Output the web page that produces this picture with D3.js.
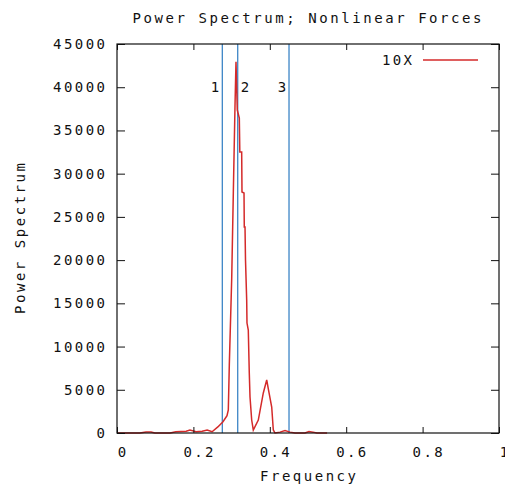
<!DOCTYPE html>
<html>
<head>
<meta charset="utf-8">
<script src="https://cdn.jsdelivr.net/npm/d3@7"></script>
<style>
  body { margin: 0; background: #fff; }
  text { font-family: "DejaVu Sans Mono", monospace; font-size: 14px; fill: #111; }
</style>
</head>
<body>
<svg id="chart" width="505" height="485"></svg>
<script>
// power spectrum
const freq = [0, 0.060, 0.076, 0.089, 0.099, 0.139, 0.154, 0.181, 0.191, 0.207, 0.223, 0.236, 0.249,
  0.264, 0.2775, 0.288, 0.2914, 0.2940, 0.3003, 0.3045, 0.3089, 0.3115,
  0.3149, 0.3202, 0.3215, 0.3264, 0.3272, 0.3325, 0.3332, 0.3351, 0.3364, 0.3395, 0.3403,
  0.3437, 0.3463, 0.3482, 0.3526, 0.3568,
  0.3699, 0.3830, 0.3919, 0.3966, 0.4050, 0.4092, 0.4136,
  0.4267, 0.4398, 0.4529, 0.466, 0.492, 0.5026, 0.513, 0.5236, 0.55];
const power = [0, 0, 120, 120, 0, 0, 150, 200, 350, 150, 200, 350, 150,
  700, 1300, 2000, 2660, 7870, 17900, 27760, 37830, 42950,
  37360, 36440, 32500, 32500, 27880, 27760, 23830, 23830, 20010, 15390, 12720,
  11900, 6940, 4160, 1500, 350,
  1500, 4630, 6130, 5000, 3000, 350, 0,
  100, 290, 100, 0, 0, 170, 100, 0, 0];

const markerFreq = [0.2757, 0.316, 0.4503];
const labelText = ["1", "2", "3"];
const labelFreq = [0.2565, 0.335, 0.432];
const labelPower = 40000;

const xTicks = [0, 0.2, 0.4, 0.6, 0.8, 1];
const xTickLabels = ["0", "0.2", "0.4", "0.6", "0.8", "1"];
const yTicks = [0, 5000, 10000, 15000, 20000, 25000, 30000, 35000, 40000, 45000];

const seriesName = "10X";

const svg = d3.select("#chart");
const margin = { top: 44, right: 6, bottom: 52, left: 117 };
const width = 505, height = 485;
const cw = 11; // character cell width of the pixel font

// fit text to the wide monospaced cell
function fit(sel) {
  sel.each(function () {
    const n = this.textContent.length;
    if (n > 1) d3.select(this).attr("textLength", (n - 1) * cw + 8).attr("lengthAdjust", "spacing");
  });
  return sel;
}

const x = d3.scaleLinear().domain([0, 1]).range([margin.left, width - margin.right]);
const y = d3.scaleLinear().domain([0, 45000]).range([height - margin.bottom, margin.top]);

// marker lines
svg.append("g").selectAll("line").data(markerFreq).enter().append("line")
  .attr("x1", d => x(d)).attr("x2", d => x(d))
  .attr("y1", y(45000)).attr("y2", y(0))
  .attr("stroke", "#3d85c6").attr("stroke-width", 1.3);

// spectrum
const line = d3.line().x((d, i) => x(freq[i])).y(d => y(d));
svg.append("path").datum(power)
  .attr("d", line)
  .attr("fill", "none")
  .attr("stroke", "#d42a2a")
  .attr("stroke-width", 1.5);

// axes with inward ticks on all sides
svg.append("g").attr("transform", `translate(0,${y(0)})`)
  .call(d3.axisBottom(x).tickValues(xTicks).tickSize(-6).tickFormat(""))
  .call(g => g.select(".domain").remove());
svg.append("g").attr("transform", `translate(0,${y(45000)})`)
  .call(d3.axisTop(x).tickValues(xTicks).tickSize(-6).tickFormat(""))
  .call(g => g.select(".domain").remove());
svg.append("g").attr("transform", `translate(${x(0)},0)`)
  .call(d3.axisLeft(y).tickValues(yTicks).tickSize(-8).tickFormat(""))
  .call(g => g.select(".domain").remove());
svg.append("g").attr("transform", `translate(${x(1)},0)`)
  .call(d3.axisRight(y).tickValues(yTicks).tickSize(-8).tickFormat(""))
  .call(g => g.select(".domain").remove());
svg.selectAll(".tick line").attr("stroke", "#111");

svg.append("rect")
  .attr("x", x(0)).attr("y", y(45000))
  .attr("width", x(1) - x(0)).attr("height", y(0) - y(45000))
  .attr("fill", "none").attr("stroke", "#111").attr("stroke-width", 1.2);

// tick labels
svg.append("g").selectAll("text").data(xTicks).enter().append("text")
  .attr("x", d => x(d) + 5).attr("y", y(0) + 24)
  .attr("text-anchor", "middle")
  .text((d, i) => xTickLabels[i])
  .call(fit);
svg.append("g").selectAll("text").data(yTicks).enter().append("text")
  .attr("x", x(0) - 12).attr("y", d => y(d) + 5)
  .attr("text-anchor", "end")
  .text(d => d)
  .call(fit);

// marker labels
svg.append("g").selectAll("text").data(labelText).enter().append("text")
  .attr("x", (d, i) => x(labelFreq[i])).attr("y", y(labelPower) + 5)
  .attr("text-anchor", "middle")
  .text(d => d);

// titles
svg.append("text").attr("x", 307).attr("y", 23).attr("text-anchor", "middle")
  .text("Power Spectrum; Nonlinear Forces").call(fit);
svg.append("text").attr("x", 308).attr("y", 481).attr("text-anchor", "middle")
  .text("Frequency").call(fit);
svg.append("text").attr("transform", `translate(25,${(y(0) + y(45000)) / 2}) rotate(-90)`)
  .attr("text-anchor", "middle")
  .text("Power Spectrum").call(fit);

// legend
svg.append("text").attr("x", 412).attr("y", 65).attr("text-anchor", "end")
  .text(seriesName).call(fit);
svg.append("line").attr("x1", 423).attr("x2", 478).attr("y1", 60).attr("y2", 60)
  .attr("stroke", "#d42a2a").attr("stroke-width", 1.3);
</script>
</body>
</html>
